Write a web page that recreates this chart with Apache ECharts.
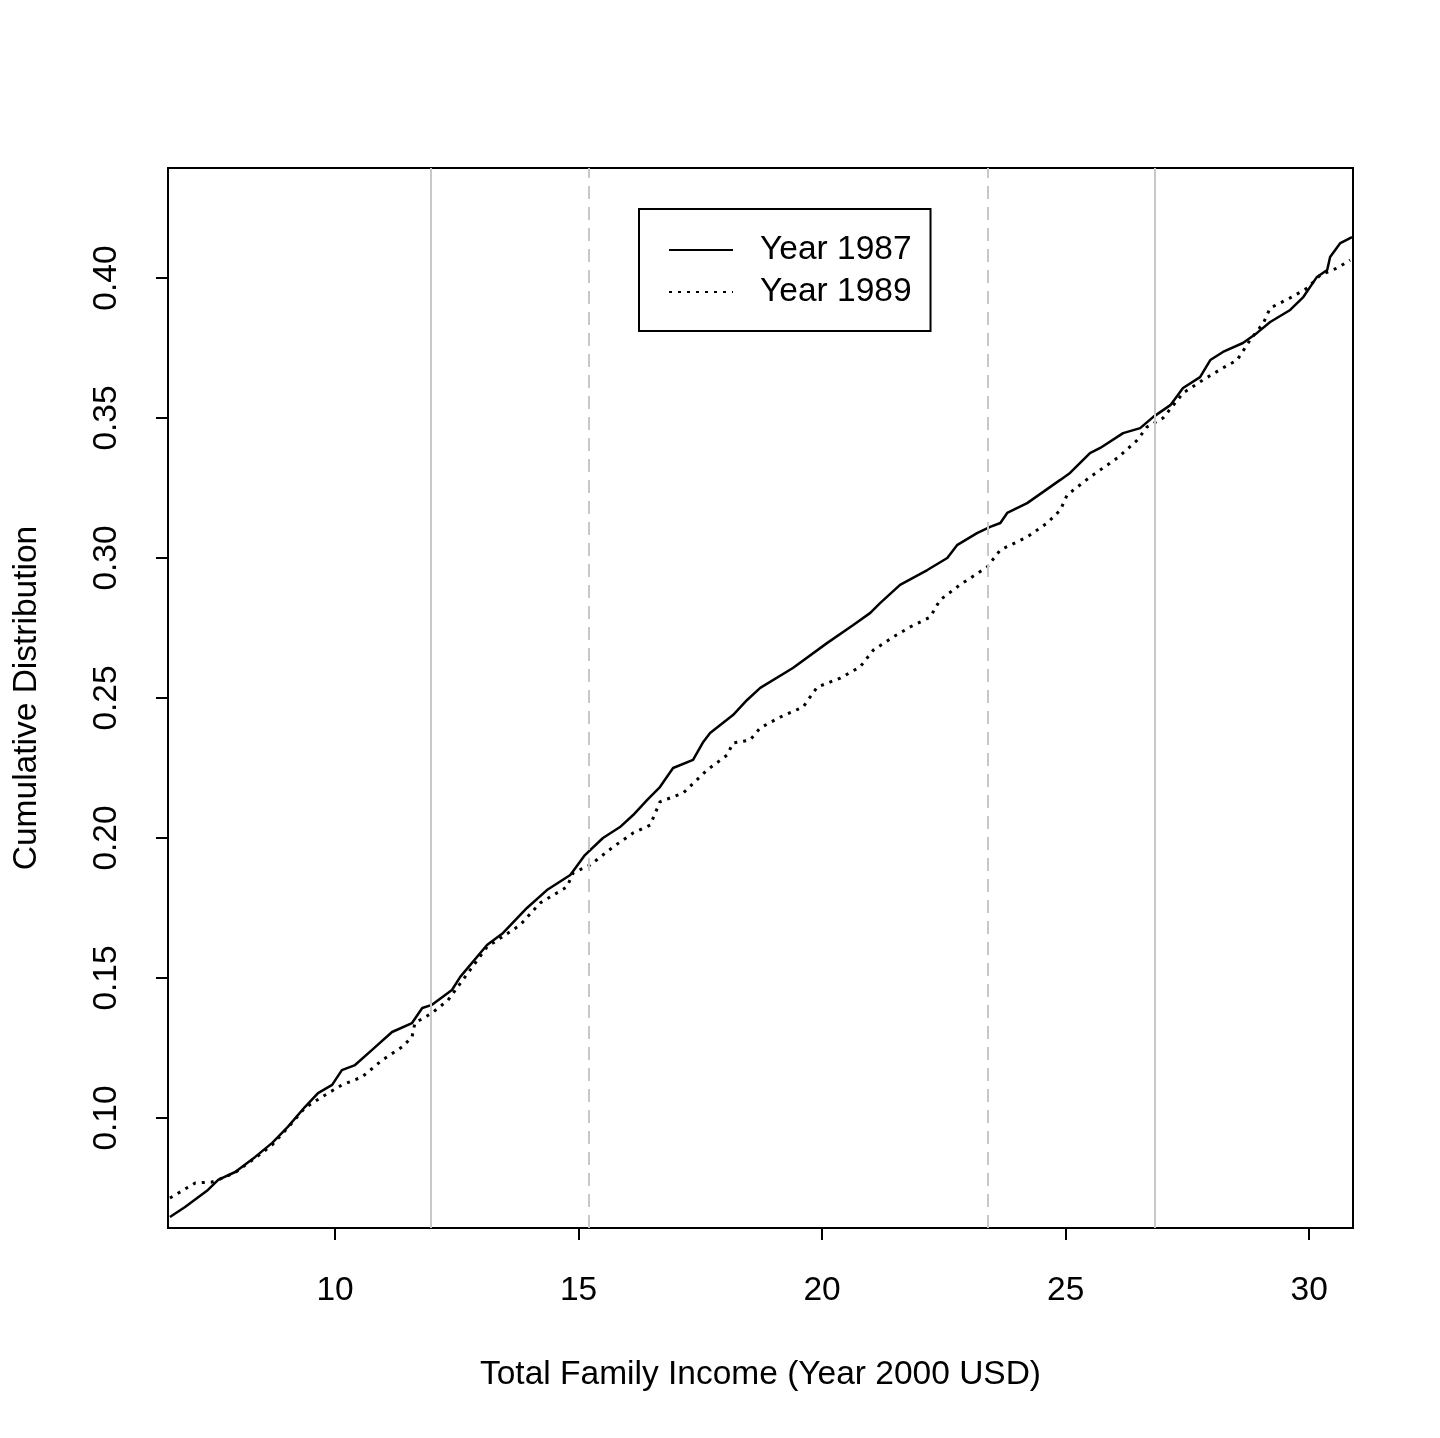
<!DOCTYPE html>
<html>
<head>
<meta charset="utf-8">
<script src="https://cdn.jsdelivr.net/npm/echarts@6/dist/echarts.min.js"></script>
<style>
  html, body { margin: 0; padding: 0; background: #fff; }
  #chart { width: 1440px; height: 1438px; }
</style>
</head>
<body>
<div id="chart"></div>
<script>
// income (x) and cumulative share (y)
var incomeTicks = [10, 15, 20, 25, 30];
var shareTicks = [0.10, 0.15, 0.20, 0.25, 0.30, 0.35, 0.40];

var x1987 = [6.61, 6.92, 7.39, 7.60, 7.95, 8.36, 8.71, 9.03, 9.38, 9.65, 9.94, 10.14, 10.41, 10.76, 11.17, 11.58, 11.79, 11.99, 12.40,
  12.57, 13.12, 13.45, 13.94, 14.35, 14.83, 15.13, 15.50, 15.85, 16.12, 16.41, 16.67, 16.94, 17.35, 17.56, 17.70, 18.17, 18.46,
  18.73, 19.40, 20.10, 20.64, 20.99, 21.19, 21.60, 22.16, 22.57, 22.77, 23.18, 23.45, 23.66, 23.80, 24.21, 24.89,
  25.09, 25.50, 25.71, 26.18, 26.53, 26.80, 27.15, 27.41, 27.76, 27.97, 28.23, 28.64, 28.93, 29.20, 29.61, 29.88, 30.16, 30.37, 30.43, 30.64, 30.88];
var y1987 = [0.0646, 0.0682, 0.0743, 0.0779, 0.0807, 0.0861, 0.0911, 0.0968, 0.1039, 0.1089, 0.1118, 0.1171, 0.1189, 0.1243, 0.1307, 0.1339, 0.1393, 0.1404, 0.1457,
  0.1504, 0.1618, 0.1661, 0.1750, 0.1814, 0.1868, 0.1939, 0.2000, 0.2039, 0.2082, 0.2136, 0.2182, 0.2250, 0.2279, 0.2343, 0.2375, 0.2439, 0.2493,
  0.2536, 0.2607, 0.2696, 0.2761, 0.2804, 0.2839, 0.2904, 0.2957, 0.3000, 0.3046, 0.3089, 0.3111, 0.3125, 0.3161, 0.3196, 0.3279,
  0.3304, 0.3375, 0.3393, 0.3446, 0.3464, 0.3504, 0.3546, 0.3607, 0.3646, 0.3707, 0.3736, 0.3768, 0.3804, 0.3843, 0.3886, 0.3932, 0.4004, 0.4029, 0.4075, 0.4125, 0.4146];

var x1989 = [6.61, 7.13, 7.47, 7.60, 7.95, 8.36, 8.71, 9.08, 9.38, 9.73, 10.14, 10.55, 10.97, 11.38, 11.58, 11.64, 11.99, 12.32,
  13.12, 13.80, 14.21, 14.76, 14.89, 15.24, 15.71, 16.12, 16.47, 16.67, 17.15, 17.64, 18.05, 18.17, 18.52,
  18.73, 19.14, 19.61, 19.90, 20.37, 20.78, 21.05, 21.46, 21.81, 22.22, 22.42, 22.83, 23.39, 23.66, 24.21, 24.62, 24.89, 25.03,
  25.50, 26.06, 26.47, 26.67, 27.00, 27.41, 27.82, 28.23, 28.52, 28.79, 29.06, 29.20, 29.61, 29.96, 30.23, 30.58, 30.84];
var y1989 = [0.0714, 0.0768, 0.0771, 0.0779, 0.0805, 0.0857, 0.0904, 0.0975, 0.1036, 0.1075, 0.1118, 0.1146, 0.1207, 0.1254, 0.1289, 0.1339, 0.1375, 0.1421,
  0.1611, 0.1689, 0.1768, 0.1825, 0.1875, 0.1904, 0.1968, 0.2018, 0.2046, 0.2129, 0.2161, 0.2243, 0.2296, 0.2339, 0.2350,
  0.2393, 0.2432, 0.2468, 0.2539, 0.2571, 0.2611, 0.2671, 0.2718, 0.2754, 0.2789, 0.2850, 0.2904, 0.2968, 0.3029, 0.3075, 0.3125, 0.3171, 0.3225,
  0.3289, 0.3357, 0.3421, 0.3468, 0.3500, 0.3589, 0.3636, 0.3679, 0.3707, 0.3779, 0.3839, 0.3893, 0.3929, 0.3964, 0.4011, 0.4036, 0.4064];

// vertical reference lines
var solidRefs = [11.97, 26.82];
var dashedRefs = [15.2, 23.41];

function pairs(xs, ys) {
  var out = [];
  for (var i = 0; i < xs.length; i++) out.push([xs[i], ys[i]]);
  return out;
}

var font = 'Liberation Sans, Arial, sans-serif';
var refLines = [];
solidRefs.forEach(function (v) {
  refLines.push({ xAxis: v, lineStyle: { type: 'solid' } });
});
dashedRefs.forEach(function (v) {
  refLines.push({ xAxis: v, lineStyle: { type: [13, 8] } });
});

var chart = echarts.init(document.getElementById('chart'));
chart.setOption({
  animation: false,
  backgroundColor: '#fff',
  grid: {
    left: 168, top: 168, right: 87, bottom: 210,
    show: true, borderColor: '#000', borderWidth: 2
  },
  legend: {
    data: ['Year 1987', 'Year 1989'],
    orient: 'vertical',
    left: 639, top: 209,
    borderColor: '#000', borderWidth: 2,
    padding: [24, 19, 22, 29],
    itemWidth: 64, itemHeight: 28, itemGap: 8,
    itemStyle: { opacity: 0 },
    textStyle: { color: '#000', fontSize: 33.5, fontFamily: font, padding: [0, 0, 0, 22] }
  },
  xAxis: {
    type: 'value',
    min: 6.57, max: 30.9,
    name: 'Total Family Income (Year 2000 USD)',
    nameLocation: 'middle', nameGap: 130,
    nameTextStyle: { color: '#000', fontSize: 33.5, fontFamily: font },
    axisLine: { show: false },
    splitLine: { show: false },
    axisTick: { show: true, inside: false, length: 12, customValues: incomeTicks, lineStyle: { color: '#000', width: 2 } },
    axisLabel: { customValues: incomeTicks, margin: 46, color: '#000', fontSize: 33.5, fontFamily: font }
  },
  yAxis: {
    type: 'value',
    min: 0.0607, max: 0.4393,
    name: 'Cumulative Distribution',
    nameLocation: 'middle', nameGap: 124,
    nameTextStyle: { color: '#000', fontSize: 33.5, fontFamily: font },
    axisLine: { show: false },
    splitLine: { show: false },
    axisTick: { show: true, inside: false, length: 12, customValues: shareTicks, lineStyle: { color: '#000', width: 2 } },
    axisLabel: {
      customValues: shareTicks, rotate: 90, margin: 44, color: '#000', fontSize: 33.5, fontFamily: font,
      formatter: function (v) { return v.toFixed(2); }
    }
  },
  series: [
    {
      name: 'refs',
      type: 'line',
      data: [],
      z: 1,
      markLine: {
        silent: true,
        symbol: 'none',
        label: { show: false },
        lineStyle: { color: '#c8c8c8', width: 2 },
        data: refLines
      }
    },
    {
      name: 'Year 1987',
      type: 'line',
      data: pairs(x1987, y1987),
      symbol: 'none',
      z: 3,
      lineStyle: { color: '#000', width: 2.5, type: 'solid' },
      itemStyle: { color: '#000' }
    },
    {
      name: 'Year 1989',
      type: 'line',
      data: pairs(x1989, y1989),
      symbol: 'none',
      z: 2,
      lineStyle: { color: '#000', width: 3, type: [3, 6] },
      itemStyle: { color: '#000' }
    }
  ]
});
</script>
</body>
</html>
